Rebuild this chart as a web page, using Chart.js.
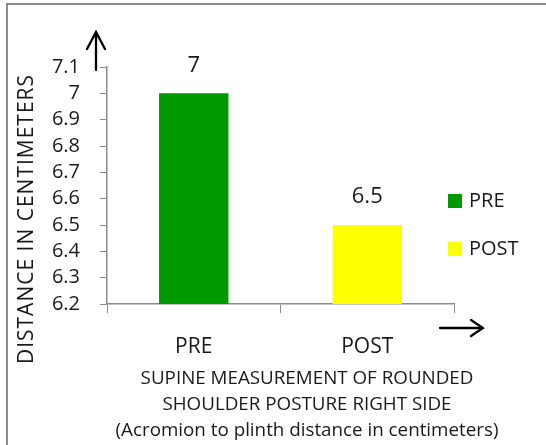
<!DOCTYPE html>
<html>
<head>
<meta charset="utf-8">
<script src="https://cdn.jsdelivr.net/npm/chart.js@4/dist/chart.umd.min.js"></script>
<style>
html, body { margin: 0; padding: 0; background: #fff; }
#wrap { width: 546px; height: 445px; position: relative; }
</style>
</head>
<body>
<div id="wrap"><canvas id="chart"></canvas></div>
<script>
// data
const categories = ['PRE', 'POST']
const distances = [7, 6.5]
const barColors = ['#009900', '#ffff00']
const yMin = 6.2
const yMax = 7.1
const yStep = 0.1
const yTitle = 'DISTANCE IN CENTIMETERS'
const xTitle = ['SUPINE MEASUREMENT OF ROUNDED', 'SHOULDER POSTURE RIGHT SIDE', '(Acromion to plinth distance in centimeters)']

const fontFamily = '"Open Sans", Lato, sans-serif'
const textColor = '#1a1a1a'
const axisColor = '#8c8c8c'

function arrow(ctx, x1, y1, x2, y2, wings) {
    ctx.beginPath()
    ctx.moveTo(x1, y1)
    ctx.lineTo(x2, y2)
    ctx.moveTo(wings[0], wings[1])
    ctx.lineTo(x2, y2)
    ctx.lineTo(wings[2], wings[3])
    ctx.stroke()
}

// frame, arrows, value labels, titles and legend
const extras = {
    id: 'extras',
    afterDraw(chart) {
        let ctx = chart.ctx
        let area = chart.chartArea
        ctx.save()

        // outer frame
        ctx.strokeStyle = axisColor
        ctx.lineWidth = 2
        ctx.strokeRect(7, 4, 600, 600)

        // arrows
        ctx.strokeStyle = '#000'
        ctx.lineWidth = 2.3
        ctx.lineCap = 'round'
        let ax = area.left - 11
        let top = area.top - 35
        arrow(ctx, ax, area.top + 3, ax, top, [ax - 9, top + 17, ax + 9, top + 17])

        let ay = area.bottom + 24
        let tip = area.right + 29
        arrow(ctx, area.right - 14, ay, tip, ay, [tip - 12, ay - 8, tip - 12, ay + 8])

        // value labels
        ctx.fillStyle = textColor
        ctx.textAlign = 'center'
        ctx.textBaseline = 'middle'
        ctx.font = '22px ' + fontFamily
        let meta = chart.getDatasetMeta(0)
        meta.data.forEach(function (bar, i) {
            ctx.fillText(String(distances[i]), bar.x, bar.y - 28)
        })

        // y title
        ctx.font = '21px ' + fontFamily
        ctx.save()
        ctx.letterSpacing = '1px'
        ctx.translate(27, 219)
        ctx.rotate(-Math.PI / 2)
        ctx.fillText(yTitle, 0, 0)
        ctx.restore()

        // x title
        ctx.font = '18.8px ' + fontFamily
        xTitle.forEach(function (line, i) {
            ctx.fillText(line, 307, 379 + i * 26)
        })

        // legend
        ctx.textAlign = 'left'
        ctx.font = '20px ' + fontFamily
        categories.forEach(function (name, i) {
            let ly = 201 + i * 48
            ctx.fillStyle = barColors[i]
            ctx.fillRect(448, ly - 7, 14, 14)
            ctx.fillStyle = textColor
            ctx.fillText(name, 469, ly)
        })
        ctx.restore()
    }
}

let context = document.querySelector('#chart').getContext('2d')

let distanceChart = new Chart(context, {
    type: 'bar',
    data: {
        labels: categories,
        datasets: [
            {
                data: distances,
                backgroundColor: barColors,
                barPercentage: 0.4,
                categoryPercentage: 1
            }
        ]
    },
    options: {
        responsive: true,
        maintainAspectRatio: false,
        animation: false,
        layout: { padding: { left: 0, top: 67, right: 92, bottom: 0 } },
        plugins: {
            legend: { display: false },
            tooltip: { enabled: false }
        },
        scales: {
            x: {
                afterFit: function (scale) { scale.height = 141 },
                grid: { drawOnChartArea: false, color: axisColor, tickLength: 9, offset: true },
                border: { color: axisColor, width: 1.5 },
                ticks: { color: textColor, font: { family: fontFamily, size: 21 }, padding: 21 }
            },
            y: {
                min: yMin,
                max: yMax,
                afterFit: function (scale) { scale.width = 107 },
                grid: { drawOnChartArea: false, color: axisColor, tickLength: 7 },
                border: { color: axisColor, width: 1.5 },
                ticks: {
                    stepSize: yStep,
                    autoSkip: false,
                    color: textColor,
                    font: { family: fontFamily, size: 20 },
                    padding: 20,
                    callback: function (v) { return String(Number(v.toFixed(1))) }
                }
            }
        }
    },
    plugins: [extras]
})
</script>
</body>
</html>
